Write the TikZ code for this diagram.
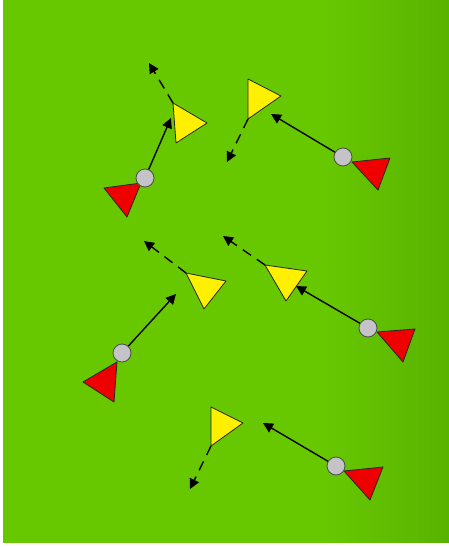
\documentclass[tikz,border=0pt]{standalone}
\usetikzlibrary{arrows.meta}
\definecolor{pitch}{RGB}{103,200,0}
\definecolor{pitchdark}{RGB}{88,178,0}
\definecolor{ballgray}{RGB}{196,196,200}
\definecolor{redteam}{RGB}{238,0,0}
\definecolor{yelteam}{RGB}{255,240,0}
\pgfdeclarehorizontalshading{pitchshade}{100bp}{color(0bp)=(pitch); color(25bp)=(pitch);
  color(61bp)=(pitch); color(75bp)=(pitchdark); color(100bp)=(pitchdark)}
\begin{document}
\begin{tikzpicture}[x=1pt,y=-1pt,
  redpl/.style={draw=black!85,fill=redteam,line width=.8pt,line join=round},
  yelpl/.style={draw=black!85,fill=yelteam,line width=.8pt,line join=round},
  ball/.style={circle,draw=black!70,fill=ballgray,line width=.8pt,minimum size=18pt,inner sep=0pt},
  pass/.style={-{Triangle[length=10pt,width=10pt]},line width=1.4pt},
  run/.style={pass,dash pattern=on 10pt off 7pt}]
\useasboundingbox (0,0) rectangle (449,547);
\fill[white] (0,0) rectangle (449,547);
\shade[shading=pitchshade] (3,0) rectangle (449,542);
% group 1, top left
\coordinate (y1) at (173,103); \coordinate (r1) at (149,63); \coordinate (p1) at (171,118);
\draw[run] (y1) -- (r1);
\draw[yelpl] (y1) -- (207,123) -- (176,143) -- cycle;
\draw[redpl] (104,188) -- (141,183) -- (127,217) -- cycle;
\node[ball] (b1) at (145,178) {};
\draw[pass] (b1) -- (p1);
% group 2, top right
\coordinate (y2) at (248,119); \coordinate (r2) at (227,162); \coordinate (p2) at (271,114);
\draw[run] (y2) -- (r2);
\draw[yelpl] (248,79) -- (281,96) -- (y2) -- cycle;
\draw[redpl] (352,162) -- (390,158) -- (378,190) -- cycle;
\node[ball] (b2) at (343,157) {};
\draw[pass] (b2) -- (p2);
% group 3, middle left
\coordinate (y3) at (186,273); \coordinate (r3) at (144,241); \coordinate (p3) at (176,294);
\draw[run] (y3) -- (r3);
\draw[yelpl] (y3) -- (226,281) -- (204,309) -- cycle;
\draw[redpl] (117,362) -- (83,382) -- (114,402) -- cycle;
\node[ball] (b3) at (122,353) {};
\draw[pass] (b3) -- (p3);
% group 4, middle right
\coordinate (y4) at (265,265); \coordinate (r4) at (223,236); \coordinate (p4) at (296,286);
\draw[run] (y4) -- (r4);
\draw[yelpl] (y4) -- (307,271) -- (286,301) -- cycle;
\draw[redpl] (377,332) -- (415,329) -- (403,362) -- cycle;
\node[ball] (b4) at (368,328) {};
\draw[pass] (b4) -- (p4);
% group 5, bottom
\coordinate (y5) at (211,446); \coordinate (r5) at (190,489); \coordinate (p5) at (263,423);
\draw[run] (y5) -- (r5);
\draw[yelpl] (211,407) -- (243,423) -- (y5) -- cycle;
\draw[redpl] (344,471) -- (383,467) -- (370,500) -- cycle;
\node[ball] (b5) at (336,466) {};
\draw[pass] (b5) -- (p5);
\end{tikzpicture}
\end{document}
